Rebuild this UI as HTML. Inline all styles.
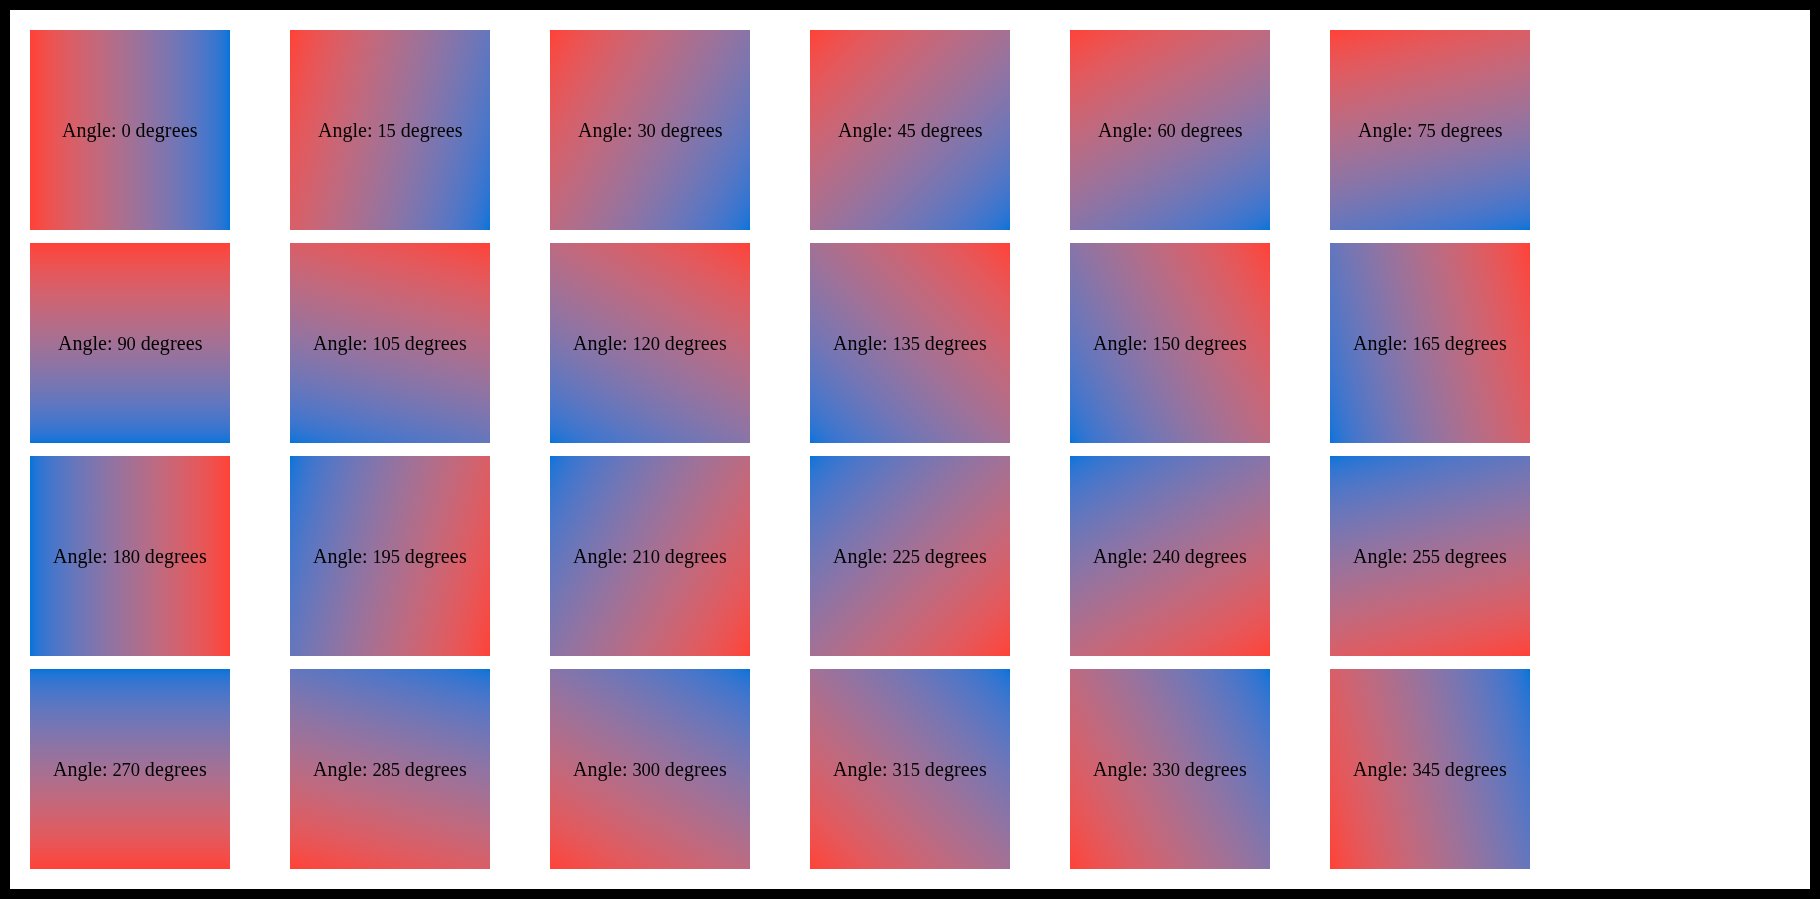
<!DOCTYPE html>
<html><head><meta charset="utf-8"><title>Gradient angles</title>
<style>
html,body{margin:0;padding:0;background:#000;}
body{width:1820px;height:899px;position:relative;overflow:hidden;font-family:"Liberation Serif",serif;}
#page{position:absolute;left:10px;top:10px;width:1800px;height:879px;background:#fff;}
.b{position:absolute;width:200px;height:200px;display:flex;align-items:center;justify-content:center;color:#000;font-size:20px;line-height:23px;white-space:nowrap;}
.t{display:block;will-change:transform;}
.n{font-size:18.5px;letter-spacing:-0.15px;line-height:0;}
.d{letter-spacing:0.14px;}
</style></head><body>
<div id="page"></div>
<div class="b" style="left:30px;top:30px;background:linear-gradient(90deg in oklab,#ff4136,#0074d9)"><span class="t">Angle: <span class="n">0</span> <span class="d">degrees</span></span></div>
<div class="b" style="left:290px;top:30px;background:linear-gradient(105deg in oklab,#ff4136,#0074d9)"><span class="t">Angle: <span class="n">15</span> <span class="d">degrees</span></span></div>
<div class="b" style="left:550px;top:30px;background:linear-gradient(120deg in oklab,#ff4136,#0074d9)"><span class="t">Angle: <span class="n">30</span> <span class="d">degrees</span></span></div>
<div class="b" style="left:810px;top:30px;background:linear-gradient(135deg in oklab,#ff4136,#0074d9)"><span class="t">Angle: <span class="n">45</span> <span class="d">degrees</span></span></div>
<div class="b" style="left:1070px;top:30px;background:linear-gradient(150deg in oklab,#ff4136,#0074d9)"><span class="t">Angle: <span class="n">60</span> <span class="d">degrees</span></span></div>
<div class="b" style="left:1330px;top:30px;background:linear-gradient(165deg in oklab,#ff4136,#0074d9)"><span class="t">Angle: <span class="n">75</span> <span class="d">degrees</span></span></div>
<div class="b" style="left:30px;top:243px;background:linear-gradient(180deg in oklab,#ff4136,#0074d9)"><span class="t">Angle: <span class="n">90</span> <span class="d">degrees</span></span></div>
<div class="b" style="left:290px;top:243px;background:linear-gradient(195deg in oklab,#ff4136,#0074d9)"><span class="t">Angle: <span class="n">105</span> <span class="d">degrees</span></span></div>
<div class="b" style="left:550px;top:243px;background:linear-gradient(210deg in oklab,#ff4136,#0074d9)"><span class="t">Angle: <span class="n">120</span> <span class="d">degrees</span></span></div>
<div class="b" style="left:810px;top:243px;background:linear-gradient(225deg in oklab,#ff4136,#0074d9)"><span class="t">Angle: <span class="n">135</span> <span class="d">degrees</span></span></div>
<div class="b" style="left:1070px;top:243px;background:linear-gradient(240deg in oklab,#ff4136,#0074d9)"><span class="t">Angle: <span class="n">150</span> <span class="d">degrees</span></span></div>
<div class="b" style="left:1330px;top:243px;background:linear-gradient(255deg in oklab,#ff4136,#0074d9)"><span class="t">Angle: <span class="n">165</span> <span class="d">degrees</span></span></div>
<div class="b" style="left:30px;top:456px;background:linear-gradient(270deg in oklab,#ff4136,#0074d9)"><span class="t">Angle: <span class="n">180</span> <span class="d">degrees</span></span></div>
<div class="b" style="left:290px;top:456px;background:linear-gradient(285deg in oklab,#ff4136,#0074d9)"><span class="t">Angle: <span class="n">195</span> <span class="d">degrees</span></span></div>
<div class="b" style="left:550px;top:456px;background:linear-gradient(300deg in oklab,#ff4136,#0074d9)"><span class="t">Angle: <span class="n">210</span> <span class="d">degrees</span></span></div>
<div class="b" style="left:810px;top:456px;background:linear-gradient(315deg in oklab,#ff4136,#0074d9)"><span class="t">Angle: <span class="n">225</span> <span class="d">degrees</span></span></div>
<div class="b" style="left:1070px;top:456px;background:linear-gradient(330deg in oklab,#ff4136,#0074d9)"><span class="t">Angle: <span class="n">240</span> <span class="d">degrees</span></span></div>
<div class="b" style="left:1330px;top:456px;background:linear-gradient(345deg in oklab,#ff4136,#0074d9)"><span class="t">Angle: <span class="n">255</span> <span class="d">degrees</span></span></div>
<div class="b" style="left:30px;top:669px;background:linear-gradient(360deg in oklab,#ff4136,#0074d9)"><span class="t">Angle: <span class="n">270</span> <span class="d">degrees</span></span></div>
<div class="b" style="left:290px;top:669px;background:linear-gradient(375deg in oklab,#ff4136,#0074d9)"><span class="t">Angle: <span class="n">285</span> <span class="d">degrees</span></span></div>
<div class="b" style="left:550px;top:669px;background:linear-gradient(390deg in oklab,#ff4136,#0074d9)"><span class="t">Angle: <span class="n">300</span> <span class="d">degrees</span></span></div>
<div class="b" style="left:810px;top:669px;background:linear-gradient(405deg in oklab,#ff4136,#0074d9)"><span class="t">Angle: <span class="n">315</span> <span class="d">degrees</span></span></div>
<div class="b" style="left:1070px;top:669px;background:linear-gradient(420deg in oklab,#ff4136,#0074d9)"><span class="t">Angle: <span class="n">330</span> <span class="d">degrees</span></span></div>
<div class="b" style="left:1330px;top:669px;background:linear-gradient(435deg in oklab,#ff4136,#0074d9)"><span class="t">Angle: <span class="n">345</span> <span class="d">degrees</span></span></div>
</body></html>
